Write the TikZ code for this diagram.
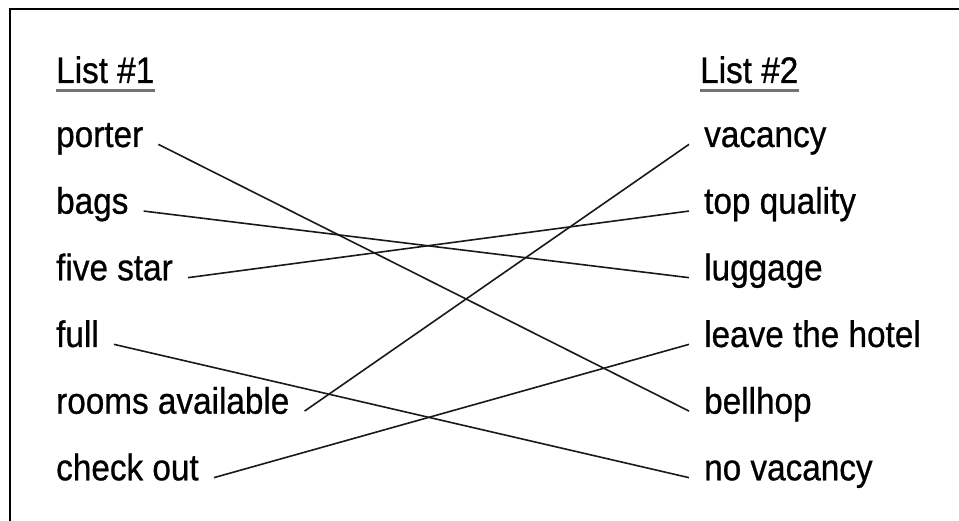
\documentclass[tikz,border=0pt]{standalone}
\usepackage{fontspec}
\setmainfont[FakeStretch=0.9,FakeBold=0.7]{Liberation Sans}
\begin{document}
\begin{tikzpicture}[x=1pt,y=-1pt,
  item/.style={anchor=base west,inner xsep=15pt,inner ysep=0pt,font=\fontsize{37}{40}\selectfont,text=black},
  head/.style={anchor=base west,inner sep=0pt,font=\fontsize{37}{40}\selectfont,text=black},
  link/.style={line width=1.6pt,draw=black!90},
  ul/.style={line width=3pt,draw=black!55},
  frame/.style={line width=2pt,draw=black}]
\useasboundingbox (0,0) rectangle (959,521);
\coordinate (fl) at (10,521);
\coordinate (fc) at (10,9);
\coordinate (fr) at (959,9);
\draw[frame] (fl) -- (fc) -- (fr);
\node[head] (h1) at (56,83) {List \#1};
\node[head] (h2) at (700,83) {List \#2};
\draw[ul] ([yshift=-8pt]h1.base west) -- ([yshift=-8pt]h1.base east);
\draw[ul] ([yshift=-8pt]h2.base west) -- ([yshift=-8pt]h2.base east);
\node[item] (porter) at (41,147) {porter};
\node[item] (bags) at (41,213.7) {bags};
\node[item] (five) at (41,280.3) {five star};
\node[item] (full) at (41,347) {full};
\node[item] (rooms) at (41,413.7) {rooms available};
\node[item] (check) at (41,480.3) {check out};
\node[item] (vac) at (689,147) {vacancy};
\node[item] (top) at (689,213.7) {top quality};
\node[item] (lug) at (689,280.3) {luggage};
\node[item] (leave) at (689,347) {leave the hotel};
\node[item] (bell) at (689,413.7) {bellhop};
\node[item] (novac) at (689,480.3) {no vacancy};
\draw[link] (porter.mid east) -- (bell.mid west);
\draw[link] (bags.mid east) -- (lug.mid west);
\draw[link] (five.mid east) -- (top.mid west);
\draw[link] (full.mid east) -- (novac.mid west);
\draw[link] (rooms.mid east) -- (vac.mid west);
\draw[link] (check.mid east) -- (leave.mid west);
\end{tikzpicture}
\end{document}
